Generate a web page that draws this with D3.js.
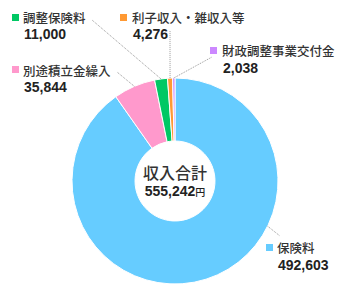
<!DOCTYPE html>
<html>
<head>
<meta charset="utf-8">
<script src="https://cdn.jsdelivr.net/npm/d3@7"></script>
<style>
  body { margin: 0; background: #fff; }
  text { font-family: "Noto Sans CJK JP", "Noto Sans", sans-serif; }
  .num { font-family: "Liberation Sans", Arial, sans-serif; }
</style>
</head>
<body>
<div id="chart"></div>
<script>
// Data
const categories = ["保険料", "別途積立金繰入", "調整保険料", "利子収入・雑収入等", "財政調整事業交付金"];
const amounts = [492603, 35844, 11000, 4276, 2038];
const colors = ["#66ccff", "#ff99cc", "#00c864", "#ff9933", "#cc88ff"];
const totalLabel = "収入合計";
const totalValue = 555242;

// label layout: square pos, text x, baselines, line end, leader angle (null = slice middle)
const labelLayout = [
    { sx: 266, sy: 244, tx: 277, ty: 253, vy: 270, lx: 280, ly: 236, angle: 116 },
    { sx: 12, sy: 66, tx: 23, ty: 76, vy: 92, lx: 117, ly: 72, angle: null },
    { sx: 12, sy: 14, tx: 23, ty: 23, vy: 39, lx: 92, ly: 20, angle: null },
    { sx: 120, sy: 14, tx: 132, ty: 23, vy: 39, lx: 170, ly: 31, angle: null },
    { sx: 210, sy: 47, tx: 222, ty: 56, vy: 73, lx: 212, ly: 57, angle: null }
];

const width = 350, height = 300;
const cx = 175, cy = 181;
const outerR = 103, innerR = 40;

const data = categories.map((c, i) => ({ name: c, value: amounts[i], color: colors[i], layout: labelLayout[i] }));

const svg = d3.select("#chart")
    .append("svg")
    .attr("width", width)
    .attr("height", height);

const pie = d3.pie()
    .value(d => d.value)
    .sort(null)
    .startAngle(0)
    .endAngle(2 * Math.PI);

const arc = d3.arc()
    .innerRadius(innerR)
    .outerRadius(outerR);

const arcs = pie(data);

const g = svg.append("g")
    .attr("transform", `translate(${cx},${cy})`);

g.selectAll("path")
    .data(arcs)
    .enter()
    .append("path")
    .attr("d", arc)
    .attr("fill", d => d.data.color)
    .attr("stroke", "#fff")
    .attr("stroke-width", 1);

// Leader lines
const leaderAngle = d => d.data.layout.angle != null ? d.data.layout.angle * Math.PI / 180 : (d.startAngle + d.endAngle) / 2;

svg.selectAll(".leader")
    .data(arcs)
    .enter()
    .append("line")
    .attr("class", "leader")
    .attr("x1", d => cx + outerR * Math.sin(leaderAngle(d)))
    .attr("y1", d => cy - outerR * Math.cos(leaderAngle(d)))
    .attr("x2", d => d.data.layout.lx)
    .attr("y2", d => d.data.layout.ly)
    .attr("stroke", "#999")
    .attr("stroke-width", 1)
    .attr("stroke-dasharray", "1,1");

// Legend labels
const lab = svg.selectAll(".lab")
    .data(data)
    .enter()
    .append("g")
    .attr("class", "lab");

lab.append("rect")
    .attr("x", d => d.layout.sx)
    .attr("y", d => d.layout.sy)
    .attr("width", 7)
    .attr("height", 7)
    .attr("fill", d => d.color);

lab.append("text")
    .attr("x", d => d.layout.tx)
    .attr("y", d => d.layout.ty)
    .attr("font-size", "12.5px")
    .attr("font-weight", 500)
    .attr("fill", "#333")
    .text(d => d.name);

lab.append("text")
    .attr("class", "num")
    .attr("x", d => d.layout.tx + 1)
    .attr("y", d => d.layout.vy)
    .attr("font-size", "14px")
    .attr("font-weight", "bold")
    .attr("fill", "#222")
    .text(d => d3.format(",")(d.value));

// Center total
svg.append("text")
    .attr("x", cx)
    .attr("y", 179)
    .attr("text-anchor", "middle")
    .attr("font-size", "16px")
    .attr("font-weight", 500)
    .attr("fill", "#333")
    .text(totalLabel);

const tot = svg.append("text")
    .attr("x", cx)
    .attr("y", 196)
    .attr("text-anchor", "middle")
    .attr("fill", "#222");

tot.append("tspan")
    .attr("class", "num")
    .attr("font-size", "14px")
    .attr("font-weight", "bold")
    .text(d3.format(",")(totalValue));

tot.append("tspan")
    .attr("font-size", "10px")
    .attr("font-weight", 500)
    .text("円");
</script>
</body>
</html>
